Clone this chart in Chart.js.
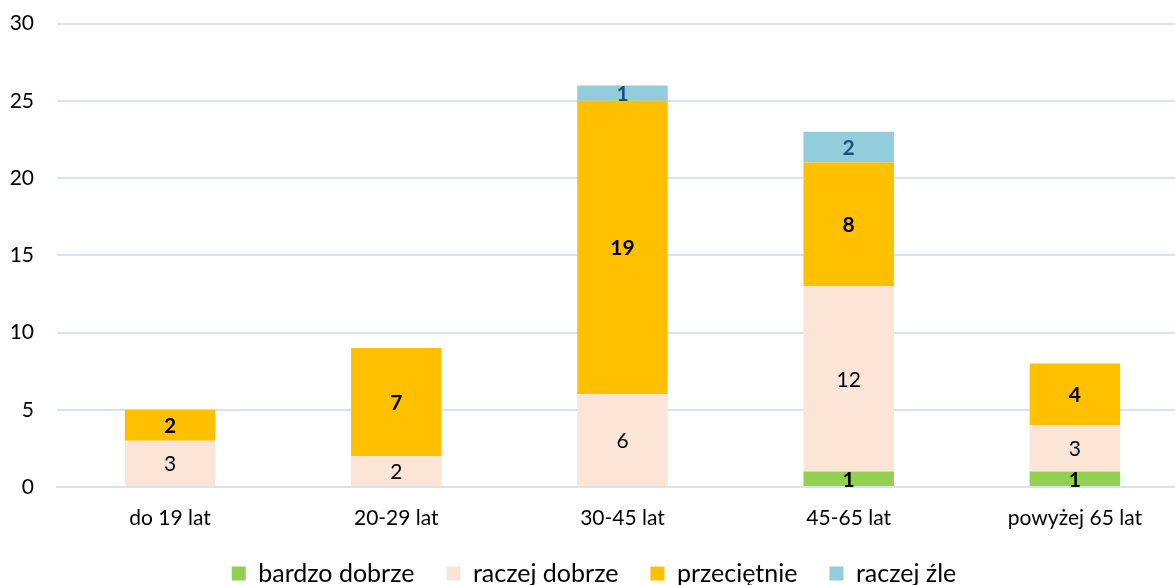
<!DOCTYPE html>
<html>
<head>
<meta charset="utf-8">
<script src="https://cdn.jsdelivr.net/npm/chart.js@4"></script>
<style>
  html, body { margin: 0; padding: 0; background: #fff; overflow: hidden; height: 585px; }
  #wrap { width: 1188px; height: 608px; margin-top: -12px; }
</style>
</head>
<body>
<div id="wrap"><canvas id="chart"></canvas></div>
<script>
const categories = ['do 19 lat', '20-29 lat', '30-45 lat', '45-65 lat', 'powyżej 65 lat'];
const bardzoDobrze = [0, 0, 0, 1, 1];
const raczejDobrze = [3, 2, 6, 12, 3];
const przecietnie = [2, 7, 19, 8, 4];
const raczejZle = [0, 0, 1, 2, 0];
const yTicks = [0, 5, 10, 15, 20, 25, 30];

const FONT = 'Lato, "Open Sans", sans-serif';

// draw value labels in the middle of each segment
const barLabels = {
  id: 'barLabels',
  afterDatasetsDraw(chart) {
    const ctx = chart.ctx;
    chart.data.datasets.forEach((ds, i) => {
      const meta = chart.getDatasetMeta(i);
      meta.data.forEach((bar, j) => {
        const v = ds.data[j];
        if (!v) return;
        const mid = (bar.y + bar.base) / 2;
        ctx.save();
        ctx.font = (ds.labelBold ? 'bold ' : '') + '21px ' + FONT;
        ctx.fillStyle = ds.labelColor;
        ctx.textAlign = 'center';
        ctx.textBaseline = 'middle';
        ctx.fillText(String(v), bar.x, mid + 1);
        ctx.restore();
      });
    });
  },
};

new Chart(document.getElementById('chart'), {
  type: 'bar',
  data: {
    labels: categories,
    datasets: [
      { label: 'bardzo dobrze', data: bardzoDobrze, backgroundColor: '#92D050', labelColor: '#000', labelBold: true },
      { label: 'raczej dobrze', data: raczejDobrze, backgroundColor: '#FBE5D6', labelColor: '#000', labelBold: false },
      { label: 'przeciętnie', data: przecietnie, backgroundColor: '#FFC000', labelColor: '#000', labelBold: true },
      { label: 'raczej źle', data: raczejZle, backgroundColor: '#92CDDC', labelColor: '#1F4E79', labelBold: true },
    ],
  },
  options: {
    responsive: true,
    maintainAspectRatio: false,
    animation: false,
    layout: { padding: 0 },
    datasets: { bar: { categoryPercentage: 1, barPercentage: 0.4 } },
    plugins: {
      tooltip: { enabled: false },
      legend: {
        position: 'bottom',
        labels: {
          boxWidth: 14,
          boxHeight: 14,
          padding: 32,
          color: '#000',
          font: { family: FONT, size: 25 },
        },
      },
    },
    scales: {
      x: {
        stacked: true,
        grid: { display: false, drawTicks: false },
        border: { color: '#D9E3F0', width: 2 },
        ticks: { color: '#000', padding: 19, font: { family: FONT, size: 21 } },
        afterFit: (axis) => { axis.height = 42; },
      },
      y: {
        stacked: true,
        min: 0,
        max: 30,
        afterBuildTicks: (axis) => { axis.ticks = yTicks.map((v) => ({ value: v })); },
        grid: { color: '#D9E3F0', lineWidth: 2, drawTicks: false },
        border: { display: false },
        ticks: { color: '#000', padding: 23, font: { family: FONT, size: 21 } },
        afterFit: (axis) => { axis.width = 57; },
      },
    },
  },
  plugins: [barLabels],
});
</script>
</body>
</html>
